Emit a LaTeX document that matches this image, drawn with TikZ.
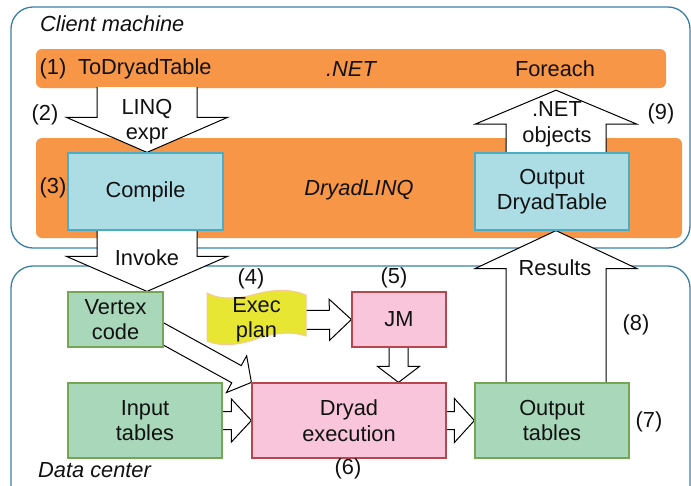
\documentclass[tikz,border=0pt]{standalone}
\usepackage{fontspec}
\setmainfont{Liberation Sans}
\usetikzlibrary{calc}
\definecolor{outerc}{HTML}{3A7FA8}
\definecolor{orangec}{HTML}{F79646}
\definecolor{bluef}{HTML}{ACDDE5}
\definecolor{blued}{HTML}{4BACC6}
\definecolor{greenf}{HTML}{A8D8B9}
\definecolor{greend}{HTML}{77A556}
\definecolor{pinkf}{HTML}{F8C5DA}
\definecolor{pinkd}{HTML}{B8474D}
\definecolor{yellowf}{HTML}{E6E633}
\definecolor{yellowd}{HTML}{F8C99A}
\definecolor{txt}{HTML}{111111}
\pgfdeclarelayer{back}
\pgfdeclarelayer{mid}
\pgfsetlayers{back,mid,main}
% block arrow: start, tip, shaft half width, head half width, head length
\newcommand\blockarr[5]{%
  \coordinate (bS) at (#1);
  \coordinate (bT) at (#2);
  \coordinate (bH) at ($(bT)!#5!(bS)$);
  \fill[white] ($(bS)!#3!90:(bT)$) -- ($(bH)!#3!90:(bT)$) -- ($(bH)!#4!90:(bT)$) -- (bT)
     -- ($(bH)!#4!-90:(bT)$) -- ($(bH)!#3!-90:(bT)$) -- ($(bS)!#3!-90:(bT)$) -- cycle;
  \draw[blkline] ($(bS)!#3!90:(bT)$) -- ($(bH)!#3!90:(bT)$) -- ($(bH)!#4!90:(bT)$) -- (bT)
     -- ($(bH)!#4!-90:(bT)$) -- ($(bH)!#3!-90:(bT)$) -- ($(bS)!#3!-90:(bT)$);%
}
\begin{document}
\begin{tikzpicture}[x=1pt,y=-1pt,
  font=\fontsize{21.8}{25.5}\selectfont, text=txt,
  every node/.style={inner sep=0pt, align=center},
  outer/.style={draw=outerc, line width=1.3pt, rounded corners=22pt},
  bar/.style={fill=orangec, rounded corners=6pt},
  bluebox/.style={fill=bluef, draw=blued, line width=1.2pt},
  greenbox/.style={fill=greenf, draw=greend, line width=1.2pt},
  pinkbox/.style={fill=pinkf, draw=pinkd, line width=1.2pt},
  blkline/.style={draw=black, line width=1pt, line join=miter},
  itl/.style={font=\fontsize{21.8}{25.5}\selectfont\itshape}]
\useasboundingbox (0,0) rectangle (691,485);

\begin{pgfonlayer}{back}
  \draw[outer] (11,7) rectangle (690,248);
  \draw[outer] (11,266) rectangle (690,520);
  \node[bar, minimum width=630pt, minimum height=39pt] (netbar) at (351,68.5) {};
  \node[bar, minimum width=646pt, minimum height=100pt] (linqbar) at (359,188) {};
\end{pgfonlayer}

% labels in the bars
\node (n1) at (53,69) {(1)};
\node[anchor=west] (todt) at (78,69) {ToDryadTable};
\node[itl] (net) at (351,69) {.NET};
\node (foreach) at (555,69) {Foreach};
\node (n3) at (53,188) {(3)};
\node[itl] (dlinq) at (359,190) {DryadLINQ};
\node[anchor=west, itl] (clientlbl) at (40,24) {Client machine};
\node[anchor=west, itl] (dclbl) at (38,470) {Data center};

% boxes
\node[bluebox, minimum width=155pt, minimum height=77pt] (compile) at (145.5,191.5) {Compile};
\node[bluebox, minimum width=154pt, minimum height=77pt] (outDT) at (552,191.5) {Output\\DryadTable};
\node[greenbox, minimum width=95pt, minimum height=55pt] (vertex) at (115.5,319.5) {Vertex\\code};
\node[pinkbox, minimum width=94pt, minimum height=55pt] (jm) at (399,319.5) {JM};
\node[pinkbox, minimum width=194pt, minimum height=75pt] (dryad) at (349,420.5) {Dryad\\execution};
\node[greenbox, minimum width=154pt, minimum height=75pt] (input) at (145,420.5) {Input\\tables};
\node[greenbox, minimum width=154pt, minimum height=75pt] (outT) at (552,420.5) {Output\\tables};

% exec plan (tape shape)
\path[fill=yellowf, draw=yellowd, line width=1pt]
  (207,293) .. controls (220,300) and (240,299) .. (256,294)
  .. controls (274,289) and (292,289) .. (306,295)
  -- (306,336) .. controls (292,331) and (272,333) .. (256,339)
  .. controls (240,345) and (220,347) .. (207,341) -- cycle;
\node[minimum width=99pt, minimum height=50pt] (exec) at (256.5,320) {Exec\\plan};

% numbers
\node (n2) at (45,115) {(2)};
\node (n9) at (661,114) {(9)};
\node (n4) at (251,279) {(4)};
\node (n5) at (394,278) {(5)};
\node (n6) at (348,469) {(6)};
\node (n7) at (649,422) {(7)};
\node (n8) at (636,325) {(8)};

% block arrows
\begin{pgfonlayer}{mid}
  \blockarr{$(compile.north |- netbar.south)+(1.5,-1)$}{$(compile.north)+(1.5,0)$}{50pt}{80.5pt}{35pt}
  \blockarr{$(compile.south)+(1.5,0)$}{$(compile.south |- vertex.north)+(1.5,0)$}{50pt}{80.5pt}{35pt}
  \blockarr{$(outDT.north)+(4,0)$}{$(outDT.north |- netbar.south)+(4,2)$}{50pt}{81pt}{34pt}
  \blockarr{$(outT.north)+(4,0)$}{$(outDT.south)+(4,0)$}{50pt}{81pt}{38pt}
  \blockarr{$(jm.south)+(-0.5,0)$}{$(jm.south |- dryad.north)+(-0.5,0)$}{9.5pt}{21pt}{16pt}
  \blockarr{exec.east}{jm.west}{9.5pt}{20.5pt}{22pt}
  \blockarr{input.east}{dryad.west}{9pt}{21.5pt}{20pt}
  \blockarr{dryad.east}{outT.west}{9pt}{22pt}{20pt}
  \blockarr{$(vertex.east)+(-10,9)$}{dryad.north west}{9.8pt}{21pt}{17pt}
\end{pgfonlayer}

% arrow labels
\node (linq) at (147,121.5) {LINQ\\expr};
\node (netobj) at (557,124.5) {.NET\\objects};
\node (invoke) at (147,258) {Invoke};
\node (results) at (555,268) {Results};
\end{tikzpicture}
\end{document}
